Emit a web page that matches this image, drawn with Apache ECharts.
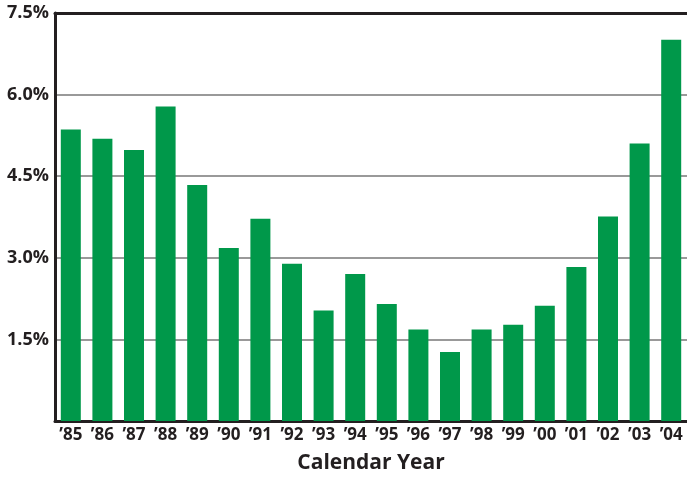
<!DOCTYPE html>
<html>
<head>
<meta charset="utf-8">
<script src="https://cdn.jsdelivr.net/npm/echarts@6/dist/echarts.min.js"></script>
<style>html,body{margin:0;padding:0;background:#fff;}#c{width:687px;height:479px;}</style>
</head>
<body>
<div id="c"></div>
<script>
const categories = ['’85','’86','’87','’88','’89','’90','’91','’92','’93','’94','’95','’96','’97','’98','’99','’00','’01','’02','’03','’04'];
const values = [5.36, 5.19, 4.98, 5.78, 4.34, 3.18, 3.72, 2.89, 2.03, 2.70, 2.15, 1.68, 1.27, 1.68, 1.77, 2.12, 2.83, 3.76, 5.10, 7.01];
const yTicks = [0, 1.5, 3.0, 4.5, 6.0, 7.5];

const chart = echarts.init(document.getElementById('c'), null, {renderer: 'canvas'});
chart.setOption({
  animation: false,
  grid: {left: 55, right: -2, top: 13, bottom: 53, containLabel: false},
  xAxis: [{
    type: 'category',
    data: categories,
    position: 'bottom',
    axisLine: {lineStyle: {color: '#231f20', width: 3}},
    axisTick: {show: false},
    axisLabel: {color: '#231f20', fontFamily: 'Open Sans', fontWeight: 'bold', fontSize: 17, margin: 6, interval: 0},
    name: 'Calendar Year',
    nameLocation: 'middle',
    nameGap: 32,
    nameTextStyle: {color: '#231f20', fontFamily: 'Open Sans', fontWeight: 'bold', fontSize: 21}
  }, {
    type: 'category',
    data: categories,
    position: 'top',
    axisLine: {lineStyle: {color: '#231f20', width: 3}},
    axisTick: {show: false},
    axisLabel: {show: false}
  }],
  yAxis: {
    type: 'value',
    min: yTicks[0],
    max: yTicks[yTicks.length - 1],
    interval: 1.5,
    axisLine: {show: true, lineStyle: {color: '#231f20', width: 3}},
    axisTick: {show: false},
    splitLine: {lineStyle: {color: '#999999', width: 2}},
    axisLabel: {
      color: '#231f20', fontFamily: 'Open Sans', fontWeight: 'bold', fontSize: 18, margin: 6,
      formatter: v => v === 0 ? '' : v.toFixed(1) + '%'
    }
  },
  series: [{
    type: 'bar',
    data: values,
    barWidth: 20,
    itemStyle: {color: '#00984a'}
  }]
});
</script>
</body>
</html>
